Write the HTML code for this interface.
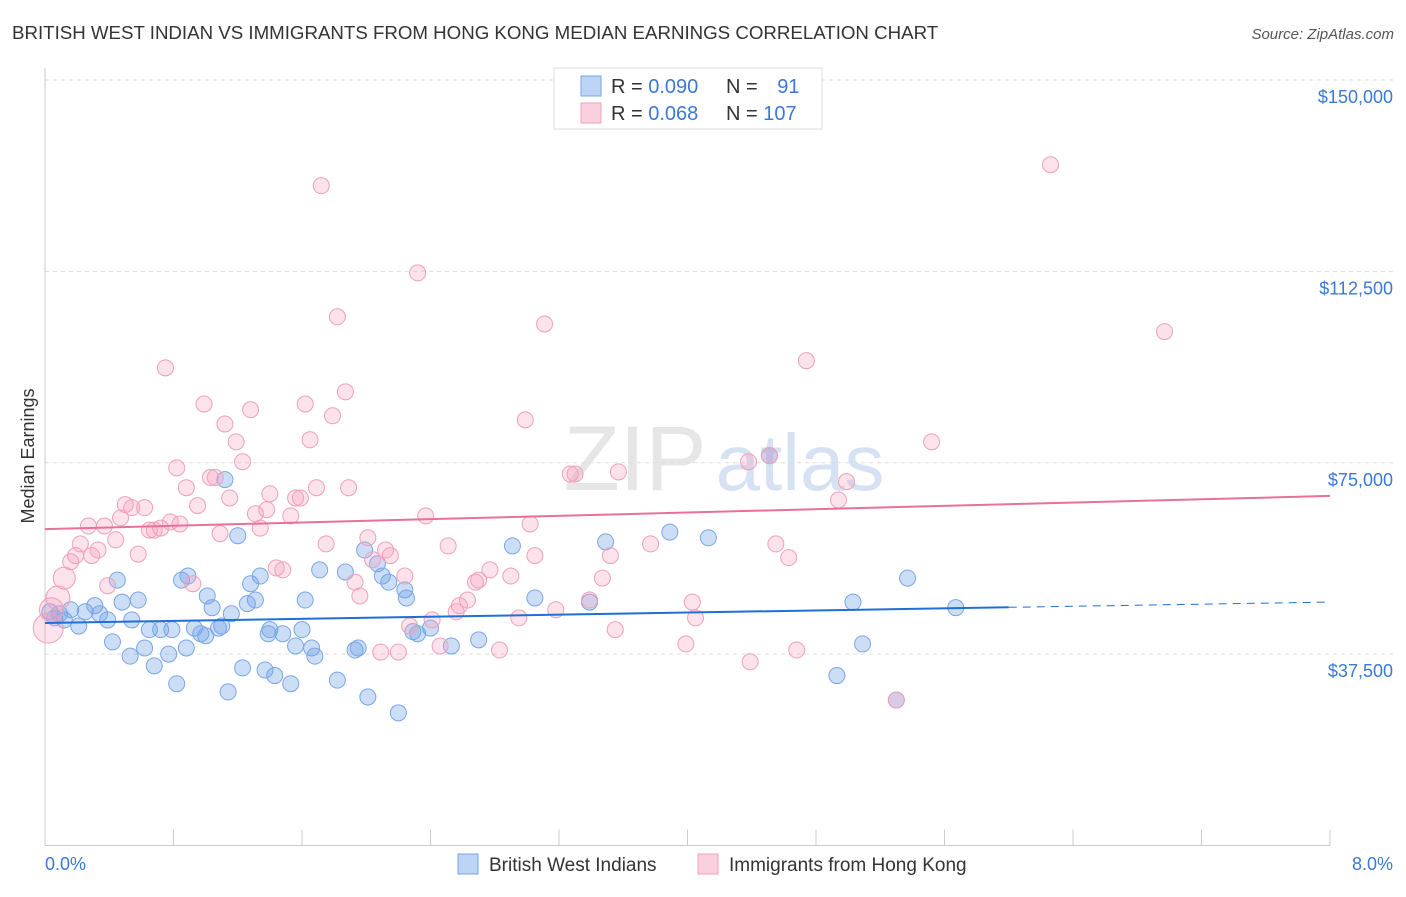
<!DOCTYPE html>
<html><head><meta charset="utf-8"><style>
body{margin:0;background:#fff;font-family:"Liberation Sans",sans-serif;}
svg text{font-family:"Liberation Sans",sans-serif;}
</style></head><body>
<svg id="chart" width="1406" height="892" xmlns="http://www.w3.org/2000/svg">
<text x="12" y="39" font-size="18.7" fill="#333">BRITISH WEST INDIAN VS IMMIGRANTS FROM HONG KONG MEDIAN EARNINGS CORRELATION CHART</text>
<text x="1394" y="39" font-size="15" fill="#555" font-style="italic" text-anchor="end">Source: ZipAtlas.com</text>
<text transform="translate(34,456) rotate(-90)" font-size="18" fill="#333" text-anchor="middle">Median Earnings</text>
<g>
<text x="635" y="490" font-size="92" fill="#d6d6d6" font-family="Liberation Serif" text-anchor="middle" opacity="0.6">ZIP</text>
<text x="800" y="490" font-size="80" fill="#bcd0ee" text-anchor="middle" opacity="0.6">atlas</text>
</g>
<g id="grid"></g>
<g id="axes"></g>
<g id="pts"></g>
<g id="trends"></g>
<g>
<rect x="554" y="68" width="268" height="61" fill="#fff" stroke="#ddd"/>
<rect x="581" y="76" width="20" height="20" fill="#bcd4f5" stroke="#7aa6e6"/>
<rect x="581" y="103" width="20" height="20" fill="#fbd0de" stroke="#f0a0bb"/>
<text x="611" y="93" font-size="20" fill="#333">R = <tspan fill="#3b78d8">0.090</tspan></text>
<text x="726" y="93" font-size="20" fill="#333">N = <tspan fill="#3b78d8" dx="14">91</tspan></text>
<text x="611" y="120" font-size="20" fill="#333">R = <tspan fill="#3b78d8">0.068</tspan></text>
<text x="726" y="120" font-size="20" fill="#333">N = <tspan fill="#3b78d8">107</tspan></text>
</g>
<g>
<rect x="458" y="854" width="20" height="20" fill="#bcd4f5" stroke="#7aa6e6"/>
<text x="489" y="871" font-size="19" fill="#333">British West Indians</text>
<rect x="698" y="854" width="20" height="20" fill="#fbd0de" stroke="#f0a0bb"/>
<text x="729" y="871" font-size="19" fill="#333">Immigrants from Hong Kong</text>
</g>
</svg>
<script>
const yTicks=[37500,75000,112500,150000];
const yTickLabels=["$37,500","$75,000","$112,500","$150,000"];
const xTickLabels=["0.0%","8.0%"];
const blueData=[[0.03,45.8],[0.06,44.6],[0.09,45.4],[0.12,44.2],[0.16,46.2],[0.21,43.0],[0.25,45.8],[0.31,47.0],[0.34,45.4],[0.39,44.2],[0.42,39.9],[0.45,52.0],[0.48,47.7],[0.53,37.1],[0.54,44.2],[0.58,48.1],[0.62,38.7],[0.65,42.3],[0.68,35.2],[0.72,42.3],[0.77,37.5],[0.79,42.3],[0.82,31.7],[0.85,52.0],[0.88,38.7],[0.89,52.8],[0.93,42.6],[0.97,41.5],[1.00,41.1],[1.01,48.9],[1.04,46.6],[1.08,42.6],[1.10,43.0],[1.12,71.7],[1.14,30.1],[1.16,45.4],[1.20,60.7],[1.23,34.8],[1.26,47.4],[1.28,51.3],[1.31,48.1],[1.34,52.8],[1.37,34.4],[1.39,41.5],[1.40,42.3],[1.43,33.3],[1.48,41.5],[1.53,31.7],[1.56,39.1],[1.60,42.3],[1.62,48.1],[1.66,38.7],[1.68,37.1],[1.71,54.0],[1.82,32.4],[1.87,53.6],[1.93,38.3],[1.95,38.7],[1.99,57.9],[2.01,29.1],[2.07,55.2],[2.10,52.8],[2.14,51.6],[2.20,26.0],[2.24,50.1],[2.25,48.5],[2.29,41.9],[2.32,41.5],[2.40,42.6],[2.53,39.1],[2.70,40.3],[2.91,58.7],[3.05,48.5],[3.39,47.7],[3.49,59.5],[3.89,61.4],[4.13,60.3],[4.51,76.4],[4.93,33.3],[5.03,47.7],[5.09,39.5],[5.30,28.5],[5.37,52.4],[5.67,46.6]];
const pinkData=[[0.02,42.6],[0.04,46.2],[0.08,48.5],[0.12,52.4],[0.16,55.6],[0.19,56.8],[0.22,59.1],[0.27,62.6],[0.29,56.8],[0.33,57.9],[0.37,62.6],[0.39,50.9],[0.44,59.9],[0.47,64.2],[0.50,66.8],[0.54,66.2],[0.58,57.1],[0.62,66.2],[0.65,61.8],[0.68,61.8],[0.72,62.2],[0.75,93.6],[0.78,63.4],[0.82,74.0],[0.84,63.0],[0.88,70.1],[0.92,51.3],[0.95,66.6],[0.99,86.5],[1.03,72.1],[1.06,72.1],[1.09,61.1],[1.12,82.6],[1.15,68.1],[1.19,79.1],[1.23,75.2],[1.28,85.4],[1.31,65.0],[1.34,62.2],[1.38,65.8],[1.40,68.9],[1.44,54.4],[1.48,54.0],[1.53,64.6],[1.56,68.1],[1.59,68.1],[1.62,86.5],[1.65,79.5],[1.69,70.1],[1.72,129.3],[1.75,59.1],[1.79,84.2],[1.82,103.6],[1.87,88.9],[1.89,70.1],[1.93,51.6],[1.96,48.9],[2.01,60.3],[2.04,56.0],[2.09,37.9],[2.12,57.9],[2.15,56.8],[2.20,37.9],[2.24,52.8],[2.27,43.0],[2.32,112.2],[2.37,64.6],[2.41,44.2],[2.46,39.1],[2.51,58.7],[2.56,45.8],[2.58,47.0],[2.63,48.1],[2.68,51.6],[2.70,52.0],[2.77,54.0],[2.83,38.3],[2.90,52.8],[2.95,44.6],[2.99,83.4],[3.02,63.0],[3.05,56.8],[3.11,102.2],[3.18,46.2],[3.27,72.8],[3.30,72.8],[3.39,48.1],[3.47,52.4],[3.52,56.8],[3.55,42.3],[3.57,73.2],[3.77,59.1],[3.99,39.5],[4.03,47.7],[4.05,44.6],[4.38,75.2],[4.39,36.0],[4.51,76.4],[4.55,59.1],[4.63,56.4],[4.68,38.3],[4.74,95.0],[4.94,67.7],[4.99,71.3],[5.30,28.5],[5.52,79.1],[6.26,133.4],[6.97,100.7]];
const pinkBig=[15,12,12,11];
const blueTrend=[43.6,47.7];
const pinkTrend=[62.0,68.5];
const blueSolidEnd=6.0;

const NS="http://www.w3.org/2000/svg";
const X0=45,X1=1330,YB=845.5;
const xs=p=>X0+(X1-X0)*p/8;
const ys=v=>YB-(v/150000)*(YB-80);
function mk(tag,attrs,parent){const e=document.createElementNS(NS,tag);for(const k in attrs)e.setAttribute(k,attrs[k]);document.getElementById(parent).appendChild(e);return e;}
yTicks.forEach((t,i)=>{
 const g=mk('line',{x1:X0,x2:1394,y1:ys(t),y2:ys(t),stroke:'#ddd','stroke-dasharray':'4,4'},'grid');
 
 
 const tx=mk('text',{x:1393,y:ys(t)+23,'font-size':18,fill:'#3b78d8','text-anchor':'end'},'axes');
 tx.textContent=yTickLabels[i];
 
 
});
const ax=mk('line',{x1:X0,x2:X0,y1:68,y2:YB,stroke:'#ccc'},'axes');


const bx=mk('line',{x1:X0,x2:X1,y1:YB,y2:YB,stroke:'#ccc'},'axes');


for(let i=0;i<=10;i++){
 const t=mk('line',{x1:xs(i*0.8),x2:xs(i*0.8),y1:YB,y2:YB-16,stroke:'#ccc'},'axes');
 
 
}
[[0,'start',X0],[1,'end',1393]].forEach(([i,a,x])=>{
 const t=mk('text',{x:x,y:870,'font-size':18,fill:'#3b78d8','text-anchor':a},'axes');
 t.textContent=xTickLabels[i];
 
 
});
blueData.forEach(d=>{
 const c=mk('circle',{cx:xs(d[0]),cy:ys(d[1]*1000),r:8,fill:'rgba(110,160,230,0.35)',stroke:'#7aa6e6','stroke-width':1},'pts');
 
 
});
pinkData.forEach((d,i)=>{
 const c=mk('circle',{cx:xs(d[0]),cy:ys(d[1]*1000),r:pinkBig[i]||8,fill:'rgba(245,160,190,0.3)',stroke:'#f0a0bb','stroke-width':1},'pts');
 
 
});
const bt=v=>blueTrend[0]+(blueTrend[1]-blueTrend[0])*v/8;
const l1=mk('line',{x1:xs(0),y1:ys(bt(0)*1000),x2:xs(blueSolidEnd),y2:ys(bt(blueSolidEnd)*1000),stroke:'#1f6fd6','stroke-width':2},'trends');


const l2=mk('line',{x1:xs(blueSolidEnd),y1:ys(bt(blueSolidEnd)*1000),x2:xs(8),y2:ys(bt(8)*1000),stroke:'#1f6fd6','stroke-width':1,'stroke-dasharray':'8,6'},'trends');


const l3=mk('line',{x1:xs(0),y1:ys(pinkTrend[0]*1000),x2:xs(8),y2:ys(pinkTrend[1]*1000),stroke:'#e8709a','stroke-width':2},'trends');


</script>
</body></html>
